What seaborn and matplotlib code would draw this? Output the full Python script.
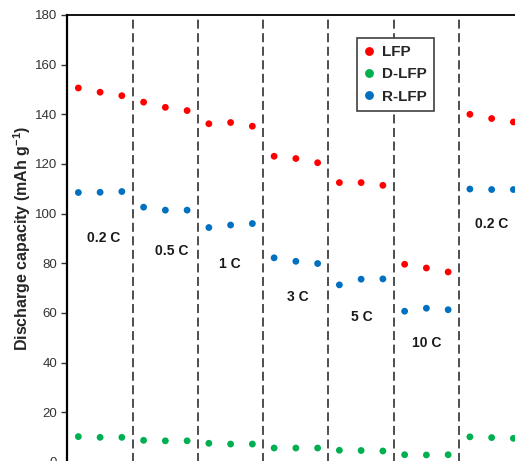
import matplotlib
matplotlib.use("Agg")
import matplotlib.pyplot as plt
import numpy as np
import pandas as pd
import seaborn as sns

# cycles 1..21, three cycles per C-rate
cycles = list(range(1, 22))
lfp = [150.6, 148.9, 147.5, 144.9, 142.8, 141.5, 136.2, 136.7, 135.2,
       123.1, 122.2, 120.5, 112.5, 112.5, 111.4, 79.6, 78.1, 76.5,
       140.0, 138.3, 136.9]
d_lfp = [10.2, 9.9, 9.9, 8.7, 8.5, 8.5, 7.5, 7.2, 7.2,
         5.6, 5.6, 5.6, 4.7, 4.6, 4.4, 2.9, 2.8, 2.9,
         10.1, 9.8, 9.5]
r_lfp = [108.5, 108.6, 108.9, 102.6, 101.4, 101.4, 94.4, 95.4, 96.0,
         82.2, 80.8, 79.9, 71.3, 73.6, 73.7, 60.7, 61.9, 61.3,
         109.9, 109.7, 109.7]
series_names = ["LFP", "D-LFP", "R-LFP"]
rate_labels = ["0.2 C", "0.5 C", "1 C", "3 C", "5 C", "10 C", "0.2 C"]
rate_label_x = [2.15, 5.3, 7.95, 11.1, 14.05, 17.0, 20.0]
rate_label_y = [90.2, 85.0, 79.7, 66.5, 58.4, 48.0, 95.8]
boundaries = [3.5, 6.5, 9.5, 12.5, 15.5, 18.5]

df = pd.DataFrame({
    "cycle": cycles * 3,
    "capacity": lfp + d_lfp + r_lfp,
    "sample": [n for n in series_names for _ in cycles],
})

sns.set_style("ticks")
plt.rcParams["font.family"] = ["Liberation Sans", "DejaVu Sans"]
plt.rcParams["mathtext.fontset"] = "custom"
plt.rcParams["mathtext.rm"] = "Liberation Sans"
plt.rcParams["mathtext.bf"] = "Liberation Sans:bold"

palette = {"LFP": "#ff0000", "D-LFP": "#00b050", "R-LFP": "#0070c0"}

fig = plt.figure(figsize=(5.15, 4.61), dpi=100)
ax = fig.add_axes([0.131, -0.002, 0.887, 0.9695])

for b in boundaries:
    ax.axvline(b, color="#404040", lw=1.3, dashes=(5, 2.5), zorder=1)

sns.scatterplot(data=df, x="cycle", y="capacity", hue="sample", palette=palette,
                s=24, linewidth=0, ax=ax, zorder=3)

for lab, x, y in zip(rate_labels, rate_label_x, rate_label_y):
    ax.text(x, y, lab, ha="center", va="center", fontsize=10, fontweight="bold",
            color="#1a1a1a")

ax.set_xlim(0.5, 21.5)
ax.set_ylim(0, 180)
ax.set_yticks(np.arange(0, 181, 20))
ax.set_xticks([])
ax.set_xlabel("")
ax.set_ylabel(r"Discharge capacity (mAh g$^{\mathbf{-1}}$)", fontsize=11.5,
              fontweight="bold", labelpad=1)
ax.tick_params(axis="y", direction="out", length=4, width=1, labelsize=9.5,
               colors="#333333", labelcolor="#333333")

for side in ["left", "top", "right", "bottom"]:
    ax.spines[side].set_visible(True)
    ax.spines[side].set_color("black")
ax.spines["left"].set_linewidth(1.6)
ax.spines["top"].set_linewidth(1.3)

handles, labels = ax.get_legend_handles_labels()
leg = ax.legend(handles, labels, loc="upper left", bbox_to_anchor=(0.634, 0.9485),
                borderaxespad=0, frameon=True, fancybox=False, edgecolor="#404040",
                framealpha=1, prop={"weight": "bold", "size": 11},
                handlelength=0.6, handletextpad=0.6, labelspacing=0.55,
                borderpad=0.45, markerscale=1.3)
leg.get_frame().set_linewidth(1.2)
leg.legend_handles[1].set_color("#4fcb86")

fig.savefig("out.png", dpi=100)
